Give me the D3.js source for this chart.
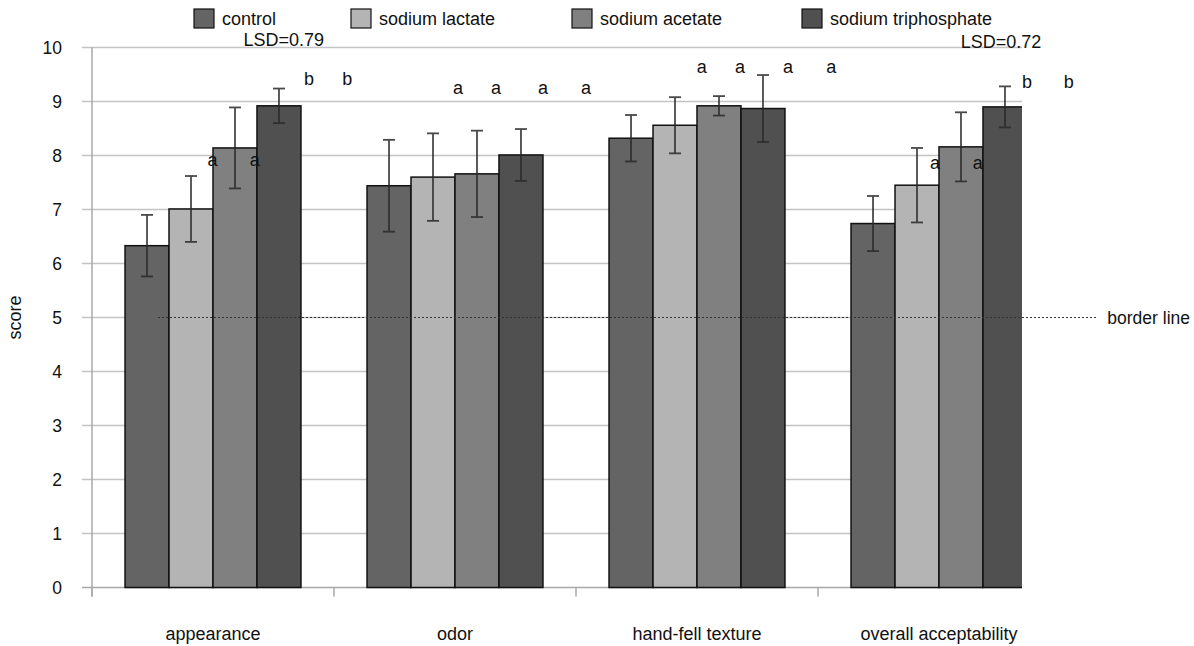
<!DOCTYPE html>
<html lang="en">
<head>
<meta charset="UTF-8">
<title>Sensory scores</title>
<script src="https://d3js.org/d3.v7.min.js"></script>
<style>
  body { margin: 0; background: #fff; }
  text { font-family: "Liberation Sans", Arial, sans-serif; fill: #111; }
</style>
</head>
<body>
<svg width="1194" height="646"></svg>
<script>
const categories = ["appearance", "odor", "hand-fell texture", "overall acceptability"];
const seriesNames = ["control", "sodium lactate", "sodium acetate", "sodium triphosphate"];
const seriesColors = ["#646464", "#b4b4b4", "#808080", "#505050"];

// mean scores, one array per treatment (order = categories)
const control = [6.33, 7.44, 8.32, 6.74];
const lactate = [7.01, 7.60, 8.56, 7.45];
const acetate = [8.14, 7.66, 8.92, 8.16];
const triphosphate = [8.92, 8.01, 8.87, 8.90];

// error bar half-widths
const controlErr = [0.57, 0.85, 0.43, 0.51];
const lactateErr = [0.61, 0.81, 0.52, 0.69];
const acetateErr = [0.75, 0.80, 0.18, 0.64];
const triphosphateErr = [0.32, 0.48, 0.62, 0.38];

const yTicks = [0, 1, 2, 3, 4, 5, 6, 7, 8, 9, 10];
const borderValue = 5;

// significance letters: category, position in bar widths from group start, score
const letters = [
  { cat: 0, slot: 1.99, score: 7.92, text: "a" },
  { cat: 0, slot: 2.95, score: 7.92, text: "a" },
  { cat: 0, slot: 4.18, score: 9.42, text: "b" },
  { cat: 0, slot: 5.05, score: 9.42, text: "b" },
  { cat: 1, slot: 2.07, score: 9.25, text: "a" },
  { cat: 1, slot: 2.93, score: 9.25, text: "a" },
  { cat: 1, slot: 4.00, score: 9.25, text: "a" },
  { cat: 1, slot: 4.98, score: 9.25, text: "a" },
  { cat: 2, slot: 2.11, score: 9.64, text: "a" },
  { cat: 2, slot: 2.98, score: 9.64, text: "a" },
  { cat: 2, slot: 4.07, score: 9.64, text: "a" },
  { cat: 2, slot: 5.05, score: 9.64, text: "a" },
  { cat: 3, slot: 1.91, score: 7.86, text: "a" },
  { cat: 3, slot: 2.88, score: 7.86, text: "a" },
  { cat: 3, slot: 4.00, score: 9.37, text: "b" },
  { cat: 3, slot: 4.95, score: 9.37, text: "b" },
  { cat: 0, slot: 3.61, score: 10.14, text: "LSD=0.79" },
  { cat: 3, slot: 3.41, score: 10.10, text: "LSD=0.72" }
];

const values = [control, lactate, acetate, triphosphate];
const errs = [controlErr, lactateErr, acetateErr, triphosphateErr];

const svg = d3.select("svg");
const plotLeft = 92, plotRight = 1060, plotTop = 47.5, plotBottom = 587.5, clipRight = 1022;

const x = d3.scaleBand().domain(categories).range([plotLeft, plotRight])
  .paddingInner(0.273).paddingOuter(0.1365);
const xs = d3.scaleBand().domain(seriesNames).range([0, x.bandwidth()]);
const y = d3.scaleLinear().domain([0, 10]).range([plotBottom, plotTop]);
const bw = xs.bandwidth();
const slotX = (cat, slot) => x(categories[cat]) + slot * bw;

svg.append("clipPath").attr("id", "plot")
  .append("rect").attr("x", 0).attr("y", 0).attr("width", clipRight).attr("height", 646);

// gridlines
svg.append("g").attr("clip-path", "url(#plot)")
  .selectAll("line").data(yTicks.filter(d => d > 0)).enter().append("line")
  .attr("x1", plotLeft - 10).attr("x2", clipRight)
  .attr("y1", d => y(d)).attr("y2", d => y(d))
  .attr("stroke", "#c4c4c4").attr("stroke-width", 1.5);

// y tick labels
svg.append("g").selectAll("text").data(yTicks).enter().append("text")
  .attr("x", 62).attr("y", d => y(d)).attr("dy", "0.35em")
  .attr("text-anchor", "end").attr("font-size", 17.5).attr("fill", "#222")
  .text(d => d);

// axes lines
svg.append("line").attr("x1", plotLeft).attr("x2", plotLeft).attr("y1", y(10)).attr("y2", plotBottom + 9)
  .attr("stroke", "#a8a8a8").attr("stroke-width", 1.5);
svg.append("line").attr("x1", plotLeft - 10).attr("x2", clipRight).attr("y1", plotBottom).attr("y2", plotBottom)
  .attr("stroke", "#a8a8a8").attr("stroke-width", 1.5);
const boundaries = categories.map((c, i) => i === 0 ? plotLeft : x(c) - x.step() * x.paddingInner() / 2);
svg.append("g").selectAll("line").data(boundaries).enter().append("line")
  .attr("x1", d => d).attr("x2", d => d)
  .attr("y1", plotBottom).attr("y2", plotBottom + 9)
  .attr("stroke", "#a8a8a8").attr("stroke-width", 1.5);

// bars
const plot = svg.append("g").attr("clip-path", "url(#plot)");
seriesNames.forEach((s, si) => {
  plot.append("g").selectAll("rect").data(categories).enter().append("rect")
    .attr("x", c => x(c) + xs(s))
    .attr("y", (c, ci) => y(values[si][ci]))
    .attr("width", bw)
    .attr("height", (c, ci) => plotBottom - y(values[si][ci]))
    .attr("fill", seriesColors[si])
    .attr("stroke", "#111").attr("stroke-width", 1.5);
});

// error bars
seriesNames.forEach((s, si) => {
  const g = plot.append("g").attr("stroke", "#2a2a2a").attr("stroke-width", 1.8).attr("opacity", 0.85);
  categories.forEach((c, ci) => {
    const cx = x(c) + xs(s) + bw / 2;
    const hi = y(values[si][ci] + errs[si][ci]);
    const lo = y(values[si][ci] - errs[si][ci]);
    g.append("line").attr("x1", cx).attr("x2", cx).attr("y1", hi).attr("y2", lo);
    g.append("line").attr("x1", cx - 6).attr("x2", cx + 6).attr("y1", hi).attr("y2", hi);
    g.append("line").attr("x1", cx - 6).attr("x2", cx + 6).attr("y1", lo).attr("y2", lo);
  });
});

// border line
svg.append("line")
  .attr("x1", slotX(0, 0.75)).attr("x2", slotX(3, 5.6))
  .attr("y1", y(borderValue)).attr("y2", y(borderValue))
  .attr("stroke", "#333").attr("stroke-width", 1.2).attr("stroke-dasharray", "2,2");
svg.append("text").attr("x", slotX(3, 5.6) + 10).attr("y", y(borderValue)).attr("dy", "0.35em")
  .attr("font-size", 17.5).attr("fill", "#000").text("border line");

// letters and LSD
svg.append("g").selectAll("text").data(letters).enter().append("text")
  .attr("x", d => slotX(d.cat, d.slot)).attr("y", d => y(d.score)).attr("dy", "0.35em")
  .attr("text-anchor", "middle").attr("font-size", 18).attr("fill", "#222")
  .text(d => d.text);

// category labels
svg.append("g").selectAll("text").data(categories).enter().append("text")
  .attr("x", d => x(d) + x.bandwidth() / 2).attr("y", 634).attr("dy", "0.35em")
  .attr("text-anchor", "middle").attr("font-size", 18).attr("fill", "#222")
  .text(d => d);

// y label
svg.append("text").attr("transform", `translate(15,${(plotTop + plotBottom) / 2}) rotate(-90)`)
  .attr("dy", "0.35em").attr("text-anchor", "middle").attr("font-size", 18).attr("fill", "#222")
  .text("score");

// legend
const legendX = [194, 351, 572, 802];
const legend = svg.append("g").selectAll("g").data(seriesNames).enter().append("g")
  .attr("transform", (d, i) => `translate(${legendX[i]},9)`);
legend.append("rect").attr("width", 20).attr("height", 19)
  .attr("fill", (d, i) => seriesColors[i]).attr("stroke", "#111").attr("stroke-width", 1.2);
legend.append("text").attr("x", 28).attr("y", 9.5).attr("dy", "0.35em")
  .attr("font-size", 18).attr("fill", "#222").text(d => d);
</script>
</body>
</html>
